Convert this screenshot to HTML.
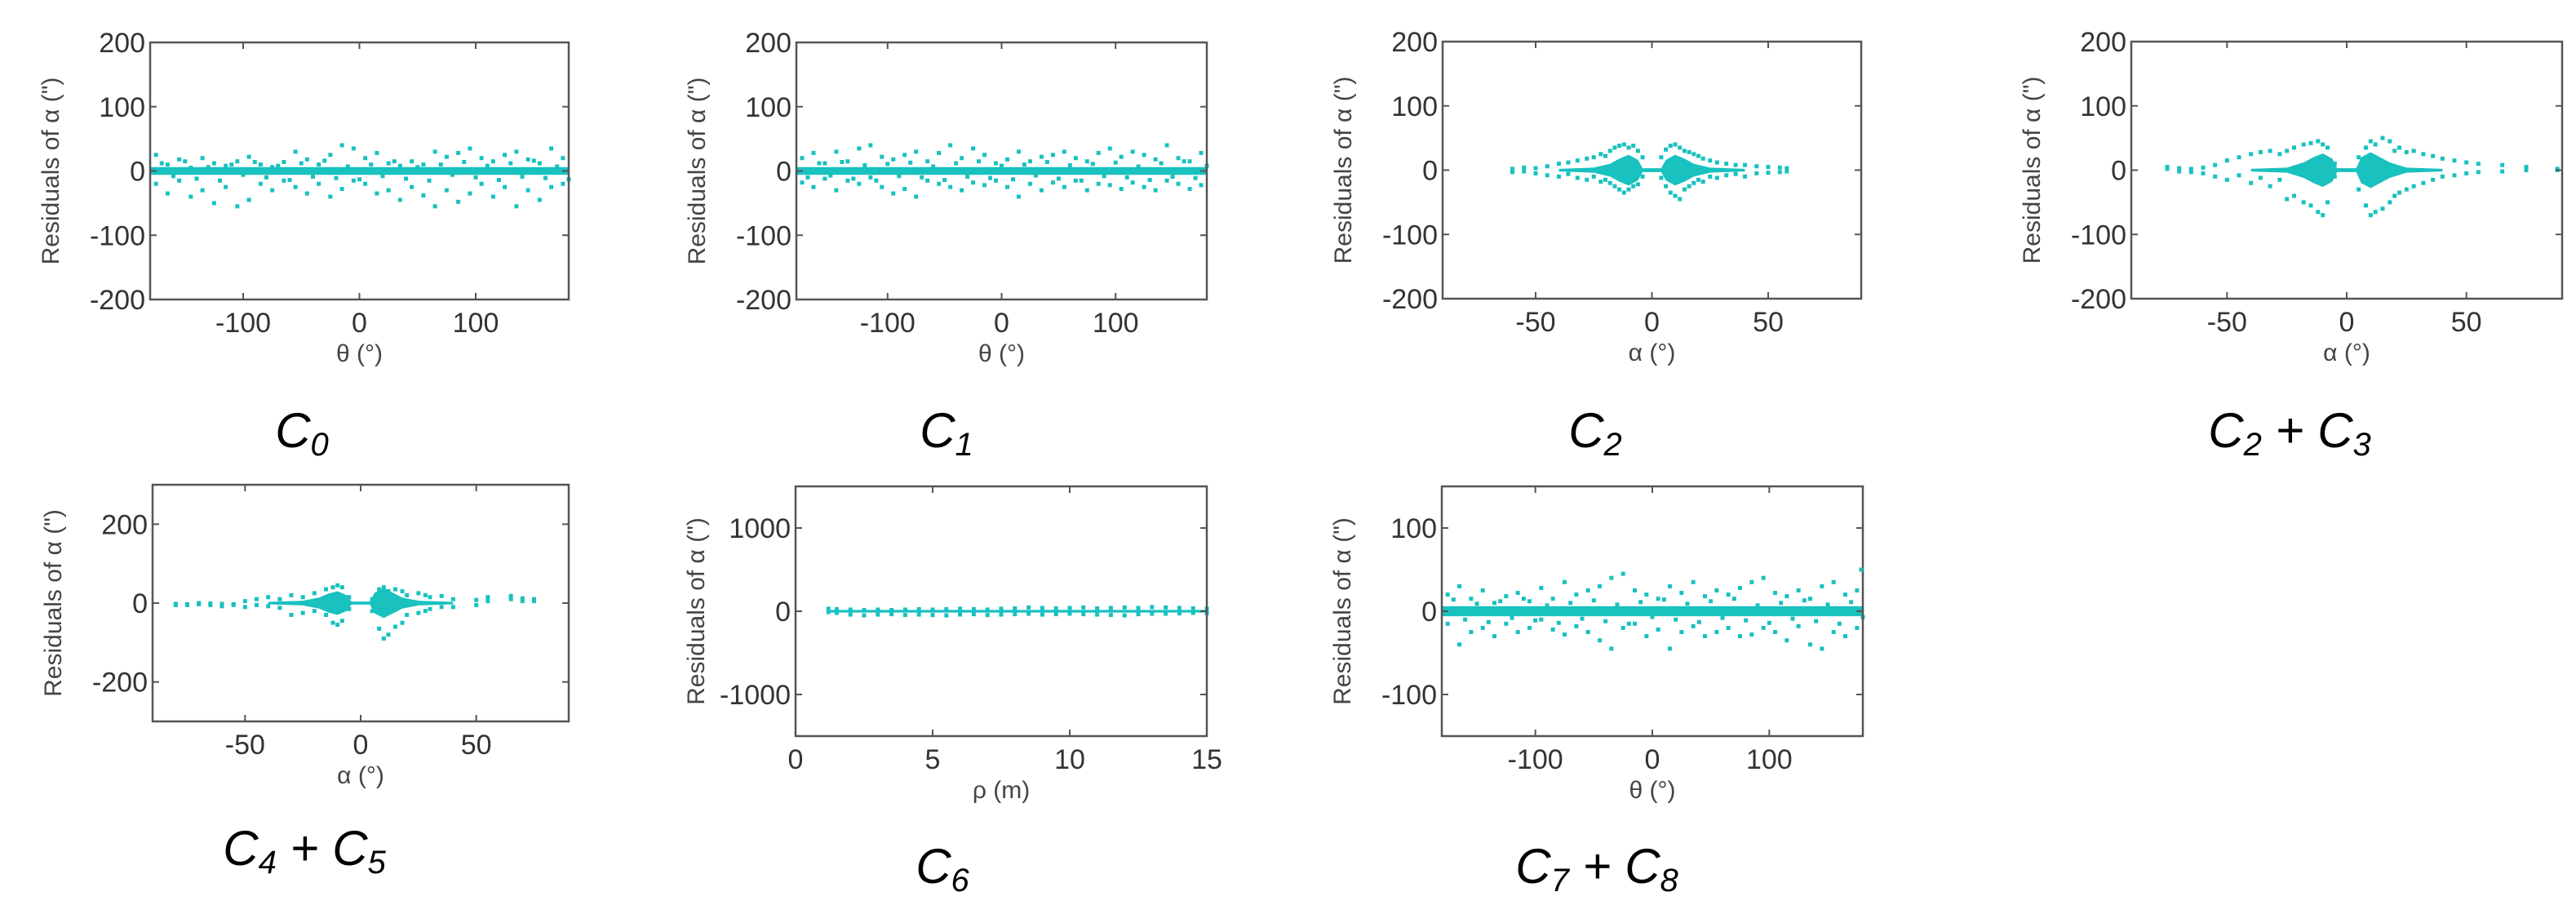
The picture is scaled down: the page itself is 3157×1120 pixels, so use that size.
<!DOCTYPE html>
<html><head><meta charset="utf-8"><style>
html,body{margin:0;padding:0;background:#fff;}
svg{display:block;}
.tk{font-family:"Liberation Sans",sans-serif;font-size:34px;fill:#333;}
.lb{font-family:"Liberation Sans",sans-serif;font-size:30px;fill:#444;}
.cap{font-family:"Liberation Sans",sans-serif;font-style:italic;font-size:60px;fill:#000;}
</style></head><body>
<svg id="fig" width="3157" height="1120" viewBox="0 0 3157 1120" xmlns="http://www.w3.org/2000/svg"></svg>
<script>
const thetaX=[-175,-165,-155,-145,-135,-125,-115,-105,-95,-85,-75,-65,-55,-45,-35,-25,-15,-5,5,15,25,35,45,55,65,75,85,95,105,115,125,135,145,155,165,175];
const c0YA=[25,10,18,5,20,12,8,15,22,10,6,14,30,18,10,25,40,35,20,28,12,8,15,10,30,22,28,35,20,15,25,30,18,12,35,20];
const c0YB=[-20,-35,-15,-40,-30,-50,-25,-55,-45,-20,-30,-15,-25,-35,-20,-40,-28,-15,-20,-35,-30,-45,-25,-38,-55,-30,-48,-35,-20,-40,-25,-55,-30,-45,-25,-20];
const c0YM=[12,-8,15,-12,6,-15,10,-6,14,-10,8,-14,12,-9,16,-11,7,-13,10,-8,15,-12,6,-15,10,-6,14,-10,8,-14,12,-9,16,-11,7,-13];
const c1YA=[20,28,12,30,15,35,40,22,18,25,30,15,28,40,20,35,25,12,18,30,15,22,25,30,20,15,28,35,22,30,25,18,40,20,15,28];
const c1YB=[-18,-25,-12,-30,-15,-20,-10,-25,-35,-28,-40,-15,-20,-25,-30,-18,-22,-15,-25,-40,-20,-30,-18,-25,-15,-30,-20,-22,-28,-18,-25,-30,-15,-20,-28,-22];
const c1YM=[-10,12,-7,14,-12,9,-15,11,-8,13,-10,7,-14,12,-9,15,-11,8,-13,10,-7,14,-12,9,-15,11,-8,13,-10,7,-14,12,-9,15,-11,8];
const c2X=[-60,-55,-50,-45,-40,-36,-32,-28,-25,-22,-20,-18,-16,-14,-12,-10,-8,-6,-4,4,6,8,10,12,14,16,18,20,22,25,28,32,36,40,45,50,55,58];
const c2YA=[2,4,3,6,10,12,15,18,20,25,22,30,35,38,40,35,38,30,20,20,32,38,40,35,30,28,25,22,18,15,12,10,8,8,6,5,4,3];
const c2YB=[-3,-2,-5,-8,-10,-6,-12,-15,-10,-18,-15,-20,-25,-30,-35,-30,-25,-22,-10,-12,-25,-35,-40,-45,-30,-25,-20,-15,-18,-10,-12,-8,-6,-10,-5,-4,-3,-2];
const c3X=[-75,-70,-65,-60,-55,-50,-45,-40,-36,-32,-28,-25,-22,-18,-15,-12,-10,-8,-5,5,8,10,12,15,18,20,22,25,28,32,36,40,45,50,55,65,75,88];
const c3YA=[5,3,2,4,8,15,20,25,28,30,25,30,35,40,42,45,40,35,10,20,35,45,40,50,45,30,35,28,30,25,22,18,15,12,10,8,5,2];
const c3YB=[2,-2,-3,-5,-10,-15,-8,-20,-12,-25,-15,-45,-40,-50,-55,-65,-70,-50,-10,-30,-55,-70,-65,-60,-50,-40,-35,-30,-25,-20,-15,-10,-8,-5,-3,-2,0,0];
const c4X=[-80,-75,-70,-65,-60,-55,-50,-45,-40,-35,-30,-25,-20,-15,-12,-10,-8,-5,5,8,10,12,15,18,20,25,28,30,35,40,50,55,65,70,75];
const c4YA=[-2,-3,0,-1,-2,-5,5,10,15,10,20,15,25,35,40,45,40,15,10,35,40,30,35,30,20,25,20,15,18,10,8,15,18,12,10];
const c4YB=[-5,-5,-3,-5,-8,-3,-10,-5,-8,-12,-30,-25,-20,-30,-50,-55,-45,-15,-20,-65,-90,-80,-60,-50,-30,-25,-20,-15,-10,-10,-5,5,10,5,5];
const c6X=[1.2,1.5,2,2.5,3,3.5,4,4.5,5,5.5,6,6.5,7,7.5,8,8.5,9,9.5,10,10.5,11,11.5,12,12.5,13,13.5,14,14.5,15];
const c6YA=[30,25,20,15,20,15,20,25,20,25,30,25,20,30,35,45,40,35,40,45,35,40,45,40,50,45,40,35,30];
const c6YB=[-10,-20,-40,-50,-40,-35,-45,-40,-45,-50,-40,-35,-45,-40,-35,-30,-40,-35,-30,-35,-40,-45,-50,-35,-30,-30,-25,-20,-20];
const c7YA=[20,30,15,25,10,18,22,12,28,15,35,20,25,30,40,45,25,20,15,30,22,35,18,25,20,28,35,40,22,18,25,15,30,35,20,25];
const c7YB=[-15,-40,-25,-20,-30,-15,-25,-20,-10,-22,-28,-18,-25,-35,-45,-20,-15,-30,-22,-45,-25,-18,-30,-25,-20,-30,-28,-20,-25,-35,-18,-40,-45,-25,-30,-20];
const c7YM=[14,-10,9,-13,12,-8,15,-11,7,-14,10,-9,13,-12,8,-15,11,-7,14,-10,9,-13,12,-8,15,-11,7,-14,10,-9,13,-12,8,-15,11,-7];
const bandThetaX=[-180,180];const bandThetaH=[6,6];
const bandC2X=[-40,-25,-18,-14,-10,-6,-4,4,6,10,14,18,25,40];const bandC2H=[2,4,10,18,24,16,3,3,16,24,18,10,4,2];
const bandC3X=[-40,-25,-18,-14,-10,-6,-4,4,6,10,14,18,25,40];const bandC3H=[2,4,12,20,26,18,3,3,20,28,20,12,4,2];
const bandC4X=[-40,-25,-18,-14,-10,-6,-4,4,6,10,14,18,25,40];const bandC4H=[3,6,14,24,30,20,4,4,26,38,26,14,6,3];
const bandC6X=[1.2,15];const bandC6H=[16,16];
const thetaTicks=[-100,0,100];const alphaTicks=[-50,0,50];const rhoTicks=[0,5,10,15];
const y200Ticks=[-200,-100,0,100,200];const y300Ticks=[-200,0,200];const y1500Ticks=[-1000,0,1000];const y150Ticks=[-100,0,100];

const NS="http://www.w3.org/2000/svg";const svg=document.getElementById('fig');
function mk(t,a,p){const e=document.createElementNS(NS,t);for(const k in a)e.setAttribute(k,a[k]);(p||svg).appendChild(e);return e;}
const plots=[
{id:'c0',L:184,R:697,T:52,B:367,xd:[-180,180],yd:[-200,200],xt:thetaTicks,yt:y200Ticks,xl:'θ (°)',x:thetaX,ya:c0YA,yb:c0YB,ym:c0YM,bx:bandThetaX,bh:bandThetaH},
{id:'c1',L:976,R:1479,T:52,B:367,xd:[-180,180],yd:[-200,200],xt:thetaTicks,yt:y200Ticks,xl:'θ (°)',x:thetaX,ya:c1YA,yb:c1YB,ym:c1YM,bx:bandThetaX,bh:bandThetaH},
{id:'c2',L:1768,R:2281,T:51,B:366,xd:[-90,90],yd:[-200,200],xt:alphaTicks,yt:y200Ticks,xl:'α (°)',x:c2X,ya:c2YA,yb:c2YB,ym:null,bx:bandC2X,bh:bandC2H},
{id:'c2c3',L:2612,R:3140,T:51,B:366,xd:[-90,90],yd:[-200,200],xt:alphaTicks,yt:y200Ticks,xl:'α (°)',x:c3X,ya:c3YA,yb:c3YB,ym:null,bx:bandC3X,bh:bandC3H},
{id:'c4c5',L:187,R:697,T:594,B:884,xd:[-90,90],yd:[-300,300],xt:alphaTicks,yt:y300Ticks,xl:'α (°)',x:c4X,ya:c4YA,yb:c4YB,ym:null,bx:bandC4X,bh:bandC4H},
{id:'c6',L:975,R:1479,T:596,B:902,xd:[0,15],yd:[-1500,1500],xt:rhoTicks,yt:y1500Ticks,xl:'ρ (m)',x:c6X,ya:c6YA,yb:c6YB,ym:null,bx:bandC6X,bh:bandC6H},
{id:'c7c8',L:1767,R:2283,T:596,B:902,xd:[-180,180],yd:[-150,150],xt:thetaTicks,yt:y150Ticks,xl:'θ (°)',x:thetaX,ya:c7YA,yb:c7YB,ym:c7YM,bx:bandThetaX,bh:bandThetaH}
];
plots.forEach(p=>{
 const g=mk('g',{});
 
 
 const sx=v=>p.L+(v-p.xd[0])/(p.xd[1]-p.xd[0])*(p.R-p.L);
 const sy=v=>p.B-(v-p.yd[0])/(p.yd[1]-p.yd[0])*(p.B-p.T);
 let pts=p.bx.map((v,i)=>sx(v)+','+sy(p.bh[i])).concat(p.bx.slice().reverse().map((v,i)=>sx(v)+','+sy(-p.bh[p.bh.length-1-i])));
 const band=mk('polygon',{points:pts.join(' '),fill:'#19c1bf'},g);
 
 
 [p.ya,p.yb].forEach(arr=>{arr.forEach((v,i)=>{
   const r=mk('rect',{x:sx(p.x[i])-2.5,y:sy(v)-2.5,width:5,height:5,fill:'#19c1bf'},g);
   
   
 });});
 if(p.ym){p.ym.forEach((v,i)=>{
   const r=mk('rect',{x:sx(p.x[i]+5)-2.5,y:sy(v)-2.5,width:5,height:5,fill:'#19c1bf'},g);
   
   
 });}
 const box=mk('rect',{x:p.L,y:p.T,width:p.R-p.L,height:p.B-p.T,fill:'none',stroke:'#555','stroke-width':2.5},g);
 
 
 p.xt.forEach(v=>{const X=sx(v);
  mk('line',{x1:X,x2:X,y1:p.B,y2:p.B-8,stroke:'#555','stroke-width':2},g);
  mk('line',{x1:X,x2:X,y1:p.T,y2:p.T+8,stroke:'#555','stroke-width':2},g);
  const t=mk('text',{x:X,y:p.B+40,'text-anchor':'middle',class:'tk'},g);t.textContent=v;
  
  
 });
 p.yt.forEach(v=>{const Y=sy(v);
  mk('line',{x1:p.L,x2:p.L+8,y1:Y,y2:Y,stroke:'#555','stroke-width':2},g);
  mk('line',{x1:p.R,x2:p.R-8,y1:Y,y2:Y,stroke:'#555','stroke-width':2},g);
  const t=mk('text',{x:p.L-6,y:Y+12,'text-anchor':'end',class:'tk'},g);t.textContent=v;
  
  
 });
 const xl=mk('text',{x:(p.L+p.R)/2,y:p.B+76,'text-anchor':'middle',class:'lb'},g);xl.textContent=p.xl;
 
 
 const cy=(p.T+p.B)/2,cx=p.L-112;
 const yl=mk('text',{x:cx,y:cy,'text-anchor':'middle',class:'lb',transform:'rotate(-90 '+cx+' '+cy+')'},g);yl.textContent='Residuals of α (")';
 
 
});
(function(){const p=plots[6];const X=p.R-2,Y=p.B-(50-p.yd[0])/(p.yd[1]-p.yd[0])*(p.B-p.T);
 const r=mk('rect',{x:X-2.5,y:Y-2.5,width:5,height:5,fill:'#19c1bf'});
 
 })();
const caps=[['C','0','',null,370,548],['C','1','',null,1160,548],['C','2','',null,1955,548],['C','2',' + C','3',2806,548],['C','4',' + C','5',373,1060],['C','6','',null,1155,1082],['C','7',' + C','8',1957,1082]];
caps.forEach(c=>{
 const t=mk('text',{x:c[4],y:c[5],'text-anchor':'middle',class:'cap'});
 
 
 let s='C<tspan font-size="40" dy="10">'+c[1]+'</tspan>';
 if(c[3]) s+='<tspan dy="-10">'+c[2]+'</tspan><tspan font-size="40" dy="10">'+c[3]+'</tspan>';
 t.innerHTML=s;
});
</script>
</body></html>
